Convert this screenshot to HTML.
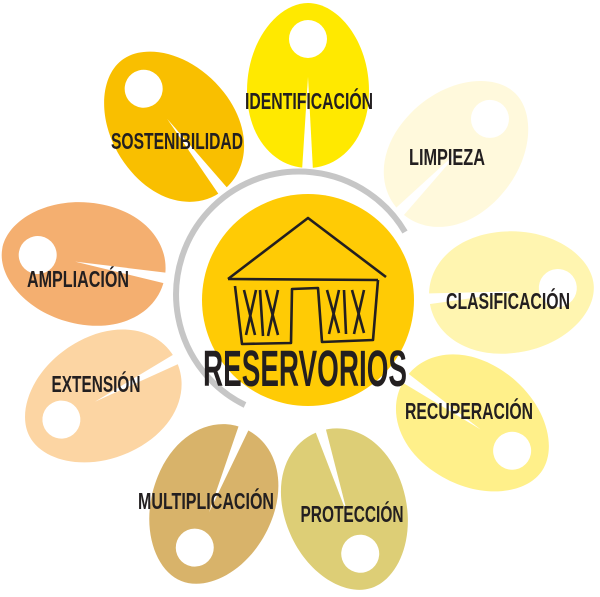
<!DOCTYPE html>
<html><head><meta charset="utf-8"><style>
html,body{margin:0;padding:0;background:#fff;width:600px;height:597px;overflow:hidden}
text{font-family:"Liberation Sans Narrow","Liberation Sans",sans-serif;font-weight:bold;fill:#231f20}
</style></head><body>
<svg width="600" height="597" viewBox="0 0 600 597">
<defs>
<g id="p">
<path d="M82,0 C82,-30 44,-61 -6,-61 C-52,-61 -83,-34 -83,0 C-83,34 -52,61 -6,61 C44,61 82,30 82,0Z"/>
<circle cx="46" cy="0" r="19" fill="#fff"/>
<polygon points="8,0 -86,-6 -86,5" fill="#fff"/>
</g>
</defs>
<g transform="translate(308,85) rotate(-90)" fill="#FFE900"><use href="#p"/></g>
<g transform="translate(458,152) rotate(-46)" fill="#FFF9DC"><use href="#p"/></g>
<g transform="translate(512,292) rotate(-5)" fill="#FFF5B0"><use href="#p"/></g>
<g transform="translate(474,425) rotate(34)" fill="#FFF08A"><use href="#p"/></g>
<g transform="translate(346,510) rotate(72)" fill="#DDCE76"><use href="#p"/></g>
<g transform="translate(212,505) rotate(112)" fill="#D8B36A"><use href="#p"/></g>
<g transform="translate(102,398) rotate(152)" fill="#FCD5A3"><use href="#p"/></g>
<g transform="translate(83,263) rotate(190)" fill="#F4AF70"><use href="#p"/></g>
<g transform="translate(172,125) rotate(232)" fill="#F9BF00"><use href="#p"/></g>

<path d="M405,232 A123,123 0 1 0 245,405" fill="none" stroke="#C6C6C6" stroke-width="6"/>
<circle cx="308" cy="300" r="106" fill="#FFCB05"/>

<g fill="none" stroke="#231f20" stroke-width="2.6" stroke-linejoin="round">
<polyline points="228,279 308,218 386,277"/>
<line x1="228" y1="279" x2="378" y2="280"/>
<polyline points="235,286 242,344 291,343 292,289 318,288 322,342 373,340 378,280"/>
<line x1="244" y1="290" x2="255" y2="335"/><line x1="256" y1="290" x2="246" y2="335"/>
<line x1="260" y1="290" x2="263" y2="336"/>
<line x1="266" y1="290" x2="278" y2="335"/><line x1="278" y1="290" x2="268" y2="336"/>
<line x1="327" y1="290" x2="339" y2="333"/><line x1="339" y1="290" x2="329" y2="334"/>
<line x1="344" y1="290" x2="346" y2="334"/>
<line x1="352" y1="290" x2="364" y2="333"/><line x1="364" y1="290" x2="354" y2="334"/>
</g>
<g transform="translate(305,386) scale(1,1.15)"><text x="0" y="0" font-size="44" text-anchor="middle" textLength="204" lengthAdjust="spacingAndGlyphs">RESERVORIOS</text></g>

<g font-size="18" text-anchor="middle">
<g transform="translate(309,109) scale(1,1.3)"><text textLength="128" lengthAdjust="spacingAndGlyphs">IDENTIFICACIÓN</text></g>
<g transform="translate(177,149) scale(1,1.3)"><text textLength="132" lengthAdjust="spacingAndGlyphs">SOSTENIBILIDAD</text></g>
<g transform="translate(447,165) scale(1,1.3)"><text textLength="76" lengthAdjust="spacingAndGlyphs">LIMPIEZA</text></g>
<g transform="translate(508,309) scale(1,1.3)"><text textLength="124" lengthAdjust="spacingAndGlyphs">CLASIFICACIÓN</text></g>
<g transform="translate(469,419) scale(1,1.3)"><text textLength="128" lengthAdjust="spacingAndGlyphs">RECUPERACIÓN</text></g>
<g transform="translate(352,522) scale(1,1.3)"><text textLength="103" lengthAdjust="spacingAndGlyphs">PROTECCIÓN</text></g>
<g transform="translate(206,509) scale(1,1.3)"><text textLength="136" lengthAdjust="spacingAndGlyphs">MULTIPLICACIÓN</text></g>
<g transform="translate(96,392) scale(1,1.3)"><text textLength="89" lengthAdjust="spacingAndGlyphs">EXTENSIÓN</text></g>
<g transform="translate(78,287) scale(1,1.3)"><text textLength="102" lengthAdjust="spacingAndGlyphs">AMPLIACIÓN</text></g>
</g>
</svg>
</body></html>
